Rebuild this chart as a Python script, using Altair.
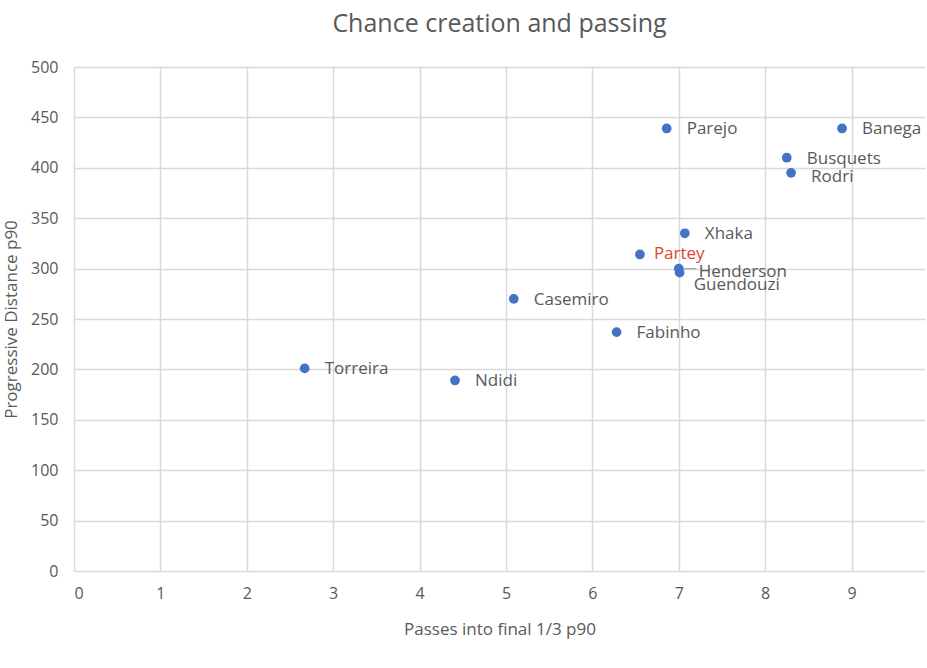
import altair as alt
import pandas as pd

players = ["Torreira", "Ndidi", "Casemiro", "Fabinho", "Partey", "Henderson",
           "Guendouzi", "Xhaka", "Parejo", "Busquets", "Rodri", "Banega"]
passes_final_third = [2.67, 4.41, 5.09, 6.28, 6.55, 7.00, 7.01, 7.07, 6.86, 8.25, 8.30, 8.89]
prog_distance = [201, 189, 270, 237, 314, 300, 296, 335, 439, 410, 395, 439]

df = pd.DataFrame({"player": players, "passes": passes_final_third, "dist": prog_distance})

FONT = "Open Sans"
GRAY = "#595959"

x = alt.X("passes:Q", title="Passes into final 1/3 p90",
          scale=alt.Scale(domain=[0, 9.85], nice=False, zero=True),
          axis=alt.Axis(values=list(range(0, 10)), grid=True, gridColor="#d9d9d9", gridWidth=1.5,
                        domain=False, ticks=False, labelPadding=14, labelFontSize=16,
                        labelColor=GRAY, titleColor=GRAY, titleFontSize=17,
                        titleFontWeight="normal", titlePadding=20, labelFont=FONT, titleFont=FONT))
y = alt.Y("dist:Q", title="Progressive Distance p90",
          scale=alt.Scale(domain=[0, 500], nice=False),
          axis=alt.Axis(values=list(range(0, 501, 50)), grid=True, gridColor="#d9d9d9", gridWidth=1.5,
                        domain=False, ticks=False, labelPadding=16, labelFontSize=16,
                        labelColor=GRAY, titleColor=GRAY, titleFontSize=17,
                        titleFontWeight="normal", titlePadding=10, labelFont=FONT, titleFont=FONT))

base = alt.Chart(df).encode(x=x, y=y)

points = base.mark_circle(size=95, color="#4472C4", opacity=1)

LBL = 17
normal = ["Torreira", "Ndidi", "Casemiro", "Fabinho", "Xhaka", "Parejo", "Busquets", "Banega"]
labels = base.transform_filter(alt.FieldOneOfPredicate(field="player", oneOf=normal)).mark_text(
    align="left", baseline="middle", dx=20, dy=1, fontSize=LBL, font=FONT, color=GRAY
).encode(text="player:N")

partey = base.transform_filter(alt.datum.player == "Partey").mark_text(
    align="left", baseline="middle", dx=14, dy=0, fontSize=LBL, font=FONT, color="#E0462A"
).encode(text="player:N")

rodri = base.transform_filter(alt.datum.player == "Rodri").mark_text(
    align="left", baseline="middle", dx=20, dy=4, fontSize=LBL, font=FONT, color=GRAY
).encode(text="player:N")

henderson = base.transform_filter(alt.datum.player == "Henderson").mark_text(
    align="left", baseline="middle", dx=20, dy=3, fontSize=LBL, font=FONT, color=GRAY
).encode(text="player:N")

guendouzi = base.transform_filter(alt.datum.player == "Guendouzi").mark_text(
    align="left", baseline="middle", dx=14, dy=12, fontSize=LBL, font=FONT, color=GRAY
).encode(text="player:N")

dash = base.transform_filter(alt.datum.player == "Henderson").mark_text(
    align="left", baseline="middle", dx=4, dy=0, fontSize=14, font=FONT, color="#a6a6a6", text="—"
)

chart = alt.layer(points, dash, labels, partey, rodri, henderson, guendouzi).properties(
    width=851, height=504,
    title=alt.TitleParams("Chance creation and passing", fontSize=25, font=FONT, color=GRAY,
                          fontWeight="normal", anchor="middle", offset=22),
    autosize=alt.AutoSizeParams(type="none"),
    padding={"left": 74, "top": 67, "right": 2, "bottom": 97},
).configure_view(stroke=None)

chart.save("out.html", embed_options={"renderer": "svg", "actions": False})
